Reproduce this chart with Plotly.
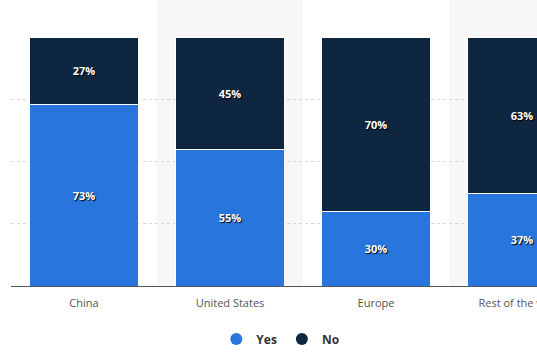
import plotly.graph_objects as go

categories = ["China", "United States", "Europe", "Rest of the world"]
yes_values = [73, 55, 30, 37]
no_values = [27, 45, 70, 63]
band_categories = [1, 3]

YES_COLOR = "#2876dd"
NO_COLOR = "#0f2640"

label_font = dict(family="Open Sans", size=11, color="white", weight="bold",
                  shadow="1px 1px 1px #000000")

fig = go.Figure()
for name, vals, col in [("Yes", yes_values, YES_COLOR), ("No", no_values, NO_COLOR)]:
    fig.add_trace(go.Bar(
        x=categories, y=vals, name=name, showlegend=False,
        marker=dict(color=col, line=dict(color="white", width=1)),
        text=[f"{v}%" for v in vals], textposition="inside",
        insidetextanchor="middle", textfont=label_font,
        hoverinfo="skip",
    ))
# legend entries with round markers
for name, col in [("Yes", YES_COLOR), ("No", NO_COLOR)]:
    fig.add_trace(go.Scatter(
        x=[None], y=[None], mode="markers", name=name,
        marker=dict(color=col, size=13, symbol="circle"),
    ))

shapes = []
for b in band_categories:
    shapes.append(dict(type="rect", xref="x", yref="paper",
                       x0=b - 0.5, x1=b + 0.5, y0=0, y1=1.16,
                       fillcolor="#f7f7f7", line=dict(width=0), layer="below"))
fig.update_layout(shapes=shapes)

fig.update_layout(
    width=537, height=360,
    barmode="stack", bargap=0.26,
    margin=dict(l=11, r=0, t=37, b=74, autoexpand=False),
    paper_bgcolor="white", plot_bgcolor="rgba(0,0,0,0)",
    font=dict(family="Open Sans", color="#555555"),
    showlegend=True,
    legend=dict(orientation="h", x=0.512, xanchor="center", y=-0.213, yanchor="middle",
                font=dict(size=12, color="#333333", weight="bold"),
                traceorder="normal", itemsizing="constant"),
    xaxis=dict(range=[-0.5, 3.1027], showline=True, linecolor="#555555", linewidth=1,
               ticks="", ticklabelstandoff=7, tickfont=dict(size=11, color="#555555"),
               showgrid=False, automargin=False, fixedrange=True),
    yaxis=dict(range=[0, 100], dtick=25, showticklabels=False, showgrid=True,
               gridcolor="#d6d6d6", griddash="dot", gridwidth=1, zeroline=False,
               automargin=False, fixedrange=True),
)

fig.write_html("out.html", config={"displayModeBar": False},
               post_script="document.body.style.margin='0';document.body.style.overflow='hidden';")
